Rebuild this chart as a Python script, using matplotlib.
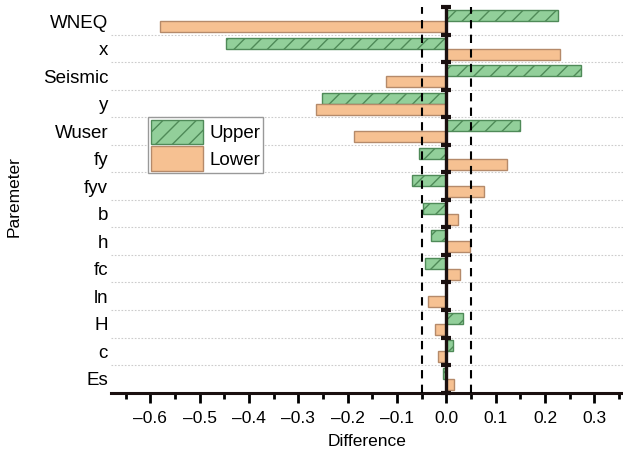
import matplotlib
matplotlib.use('Agg')
import matplotlib.pyplot as plt
from matplotlib.ticker import MultipleLocator
import numpy as np

plt.rcParams['font.family'] = ['Liberation Sans', 'DejaVu Sans']

params = ['WNEQ', 'x', 'Seismic', 'y', 'Wuser', 'fy', 'fyv', 'b', 'h', 'fc', 'ln', 'H', 'c', 'Es']
upper = [0.227, -0.447, 0.273, -0.253, 0.149, -0.056, -0.069, -0.048, -0.032, -0.043, 0.0, 0.033, 0.013, -0.007]
lower = [-0.581, 0.230, -0.122, -0.265, -0.187, 0.123, 0.076, 0.024, 0.048, 0.028, -0.038, -0.023, -0.017, 0.015]
xticks = [-0.6, -0.5, -0.4, -0.3, -0.2, -0.1, 0.0, 0.1, 0.2, 0.3]

green = '#92cf9a'
green_edge = '#4f8a58'
orange = '#f6c192'
orange_edge = '#b58a6a'

fig = plt.figure(figsize=(6.23, 4.57), dpi=100)
ax = fig.add_axes([0.178, 0.141, 0.822, 0.843])

pos = np.arange(len(params))
ax.barh(pos - 0.2, upper, height=0.4, color=green, edgecolor=green_edge,
        hatch='//', linewidth=1, label='Upper', zorder=2)
ax.barh(pos + 0.2, lower, height=0.4, color=orange, edgecolor=orange_edge,
        linewidth=1, label='Lower', zorder=2)

# row separators
for b in np.arange(len(params) - 1) + 0.5:
    ax.axhline(b, color='#cccccc', lw=0.8, ls=(0, (1.5, 1.5)), zorder=0)

# reference lines
ax.axvline(-0.05, color='black', lw=1.5, ls=(0, (4, 3)), zorder=3)
ax.axvline(0.05, color='black', lw=1.5, ls=(0, (4, 3)), zorder=3)
ax.axvline(0, color='#1a1010', lw=2.4, zorder=4)
ax.plot(np.zeros(len(params) + 1), np.arange(len(params) + 1) - 0.5, ls='none',
        marker='_', ms=7, mew=3, color='#1a1010', zorder=5, clip_on=False)

ax.set_ylim(len(params) - 0.5, -0.5)
ax.set_xlim(-0.68, 0.358)
ax.set_yticks(pos)
ax.set_yticklabels(params, fontsize=13.5)
ax.tick_params(axis='y', length=0, pad=2)

ax.set_xticks(xticks)
ax.set_xticklabels([f'{t:.1f}'.replace('-', '\u2013') for t in xticks], fontsize=12.5)
ax.xaxis.set_minor_locator(MultipleLocator(0.05))
ax.tick_params(axis='x', which='major', length=7, width=2, direction='out', pad=6)
ax.tick_params(axis='x', which='minor', length=4, width=2, direction='out')

for s in ['top', 'right', 'left']:
    ax.spines[s].set_visible(False)
ax.spines['bottom'].set_linewidth(2.2)
ax.spines['bottom'].set_color('#1a1010')

ax.set_xlabel('Difference', fontsize=12.5, labelpad=6)
fig.text(0.022, 0.57, 'Paremeter', rotation=90, fontsize=12.5, va='center', ha='center')

ax.legend(loc='upper left', bbox_to_anchor=(0.072, 0.716), borderaxespad=0,
          fontsize=13.5, handlelength=2.8, handleheight=1.6, handletextpad=0.35,
          labelspacing=0.15, borderpad=0.15, fancybox=False, edgecolor='#999999',
          framealpha=1)

fig.savefig('out.png', dpi=100)
